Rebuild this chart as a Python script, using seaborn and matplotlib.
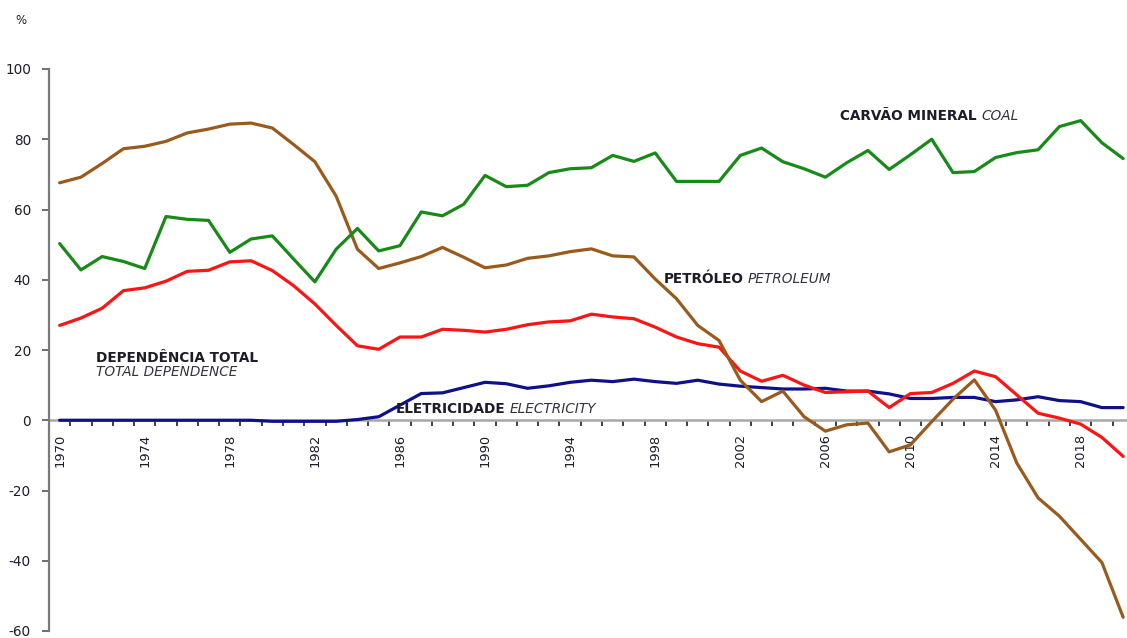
"""Dependência energética externa por fonte, 1970-2020 (%)."""

import matplotlib
matplotlib.use("Agg")
import matplotlib.pyplot as plt
import numpy as np
import pandas as pd
import seaborn as sns
from matplotlib.ticker import FixedLocator

YEARS = list(range(1970, 2021))

COAL = [50.3, 42.8, 46.6, 45.2, 43.2, 58.0, 57.2, 56.9, 47.8, 51.6,
        52.5, 45.9, 39.4, 48.7, 54.6, 48.2, 49.7, 59.3, 58.2, 61.5,
        69.7, 66.5, 66.9, 70.5, 71.6, 71.9, 75.4, 73.7, 76.1, 68.0,
        68.0, 68.0, 75.4, 77.5, 73.6, 71.6, 69.2, 73.3, 76.8, 71.4,
        75.6, 80.0, 70.5, 70.8, 74.8, 76.2, 77.0, 83.6, 85.3, 79.0,
        74.5]

PETROLEUM = [67.6, 69.2, 73.1, 77.3, 78.0, 79.4, 81.8, 82.9, 84.3, 84.6,
             83.2, 78.5, 73.6, 63.8, 48.7, 43.2, 44.8, 46.6, 49.2, 46.4,
             43.4, 44.2, 46.1, 46.8, 48.0, 48.8, 46.8, 46.5, 40.2, 34.6,
             27.0, 22.7, 11.4, 5.3, 8.3, 1.0, -3.1, -1.3, -0.8, -9.0,
             -7.0, -0.4, 6.0, 11.5, 2.9, -12.2, -22.1, -27.3, -33.9, -40.5,
             -56.1]

TOTAL = [27.0, 29.1, 31.9, 36.9, 37.7, 39.6, 42.4, 42.7, 45.1, 45.4,
         42.6, 38.3, 33.1, 27.0, 21.2, 20.2, 23.7, 23.7, 25.9, 25.6,
         25.1, 25.9, 27.2, 28.0, 28.3, 30.2, 29.4, 28.9, 26.5, 23.7,
         21.8, 20.8, 14.0, 11.1, 12.8, 10.0, 7.9, 8.1, 8.3, 3.6,
         7.6, 7.9, 10.5, 14.0, 12.4, 7.2, 2.0, 0.6, -1.1, -4.9,
         -10.3]

ELECTRICITY = [0.0, 0.0, 0.0, 0.0, 0.0, 0.0, 0.0, 0.0, 0.0, 0.0,
               -0.3, -0.3, -0.3, -0.3, 0.2, 1.0, 4.3, 7.6, 7.8, 9.3,
               10.8, 10.4, 9.1, 9.8, 10.8, 11.4, 11.0, 11.7, 11.0, 10.5,
               11.4, 10.3, 9.7, 9.3, 8.9, 8.9, 9.1, 8.3, 8.3, 7.5,
               6.2, 6.2, 6.5, 6.5, 5.3, 5.8, 6.7, 5.6, 5.3, 3.6,
               3.6]

SERIES = {
    "coal": COAL,
    "petroleum": PETROLEUM,
    "total": TOTAL,
    "electricity": ELECTRICITY,
}
COLORS = {
    "coal": "#178a17",
    "petroleum": "#9a5a1c",
    "total": "#ff1414",
    "electricity": "#10108a",
}

YEAR_LABELS = list(range(1970, 2019, 4))
Y_TICKS = [-60, -40, -20, 0, 20, 40, 60, 80, 100]

# bold part, italic part, x, y (baseline) of the in-chart labels
LABELS = [
    ("CARVÃO MINERAL", "COAL", 2006.7, 85.6),
    ("PETRÓLEO", "PETROLEUM", 1998.4, 39.1),
    ("ELETRICIDADE", "ELECTRICITY", 1985.8, 2.1),
]

TEXT_DARK = "#1c1c2a"
TEXT_SOFT = "#34343f"
LABEL_SIZE = 9.8


def main() -> None:
    sns.set_style("white")
    plt.rcParams["font.family"] = ["DejaVu Sans"]

    frame = pd.DataFrame(
        [(name, year, value)
         for name, values in SERIES.items()
         for year, value in zip(YEARS, values)],
        columns=["serie", "ano", "valor"],
    )

    fig = plt.figure(figsize=(11.27, 6.38), dpi=100)
    axis = fig.add_axes([49 / 1127, 7 / 638, 1078 / 1127, 562 / 638])

    sns.lineplot(
        data=frame, x="ano", y="valor", hue="serie",
        hue_order=["electricity", "total", "petroleum", "coal"],
        palette=COLORS, linewidth=2.3, legend=False, ax=axis,
    )

    axis.set_xlim(1969.5, 2020.18)
    axis.set_ylim(-60, 100)
    axis.set(xlabel="", ylabel="")

    # Excel-like axes: y spine on the left, category axis crossing at zero
    for side in ("top", "right"):
        axis.spines[side].set_visible(False)
    axis.spines["left"].set_color("#7a7a7a")
    axis.spines["left"].set_linewidth(1.6)
    axis.spines["bottom"].set_position(("data", 0))
    axis.spines["bottom"].set_color("#a8a8a8")
    axis.spines["bottom"].set_linewidth(1.8)
    axis.spines["bottom"].set_zorder(1)

    axis.set_yticks(Y_TICKS)
    axis.set_yticklabels([str(v) for v in Y_TICKS])
    axis.tick_params(axis="y", direction="out", length=5, width=1.2,
                     color="#555555", labelsize=9.8, labelcolor=TEXT_DARK, pad=8, left=True)

    axis.set_xticks(YEAR_LABELS)
    axis.set_xticklabels([str(y) for y in YEAR_LABELS], rotation=90)
    axis.tick_params(axis="x", which="major", length=0, labelsize=9.4,
                     labelcolor=TEXT_DARK, pad=10)
    axis.xaxis.set_minor_locator(FixedLocator(np.arange(1969.5, 2021, 1.0)))
    axis.tick_params(axis="x", which="minor", direction="out", length=4.5,
                     width=1.3, color="#333333", bottom=True)

    for bold, italic, x, y in LABELS:
        head = axis.text(x, y, bold, fontsize=LABEL_SIZE, fontweight="bold",
                         color=TEXT_DARK, va="baseline", ha="left")
        axis.annotate(italic, xy=(1, 0), xycoords=head, xytext=(3, 0),
                      textcoords="offset points", fontsize=LABEL_SIZE, fontstyle="italic",
                      color=TEXT_SOFT, va="bottom", ha="left")

    axis.text(1971.7, 16.7, "DEPENDÊNCIA TOTAL", fontsize=LABEL_SIZE, fontweight="bold",
              color=TEXT_DARK, va="baseline", ha="left")
    axis.text(1971.7, 12.5, "TOTAL DEPENDENCE", fontsize=LABEL_SIZE, fontstyle="italic",
              color=TEXT_SOFT, va="baseline", ha="left")

    fig.text(15 / 1127, 1 - 20 / 638, "%", fontsize=8.5, color=TEXT_DARK,
             va="center", ha="left")

    fig.savefig("out.png", dpi=100)
    plt.close(fig)


if __name__ == "__main__":
    main()
